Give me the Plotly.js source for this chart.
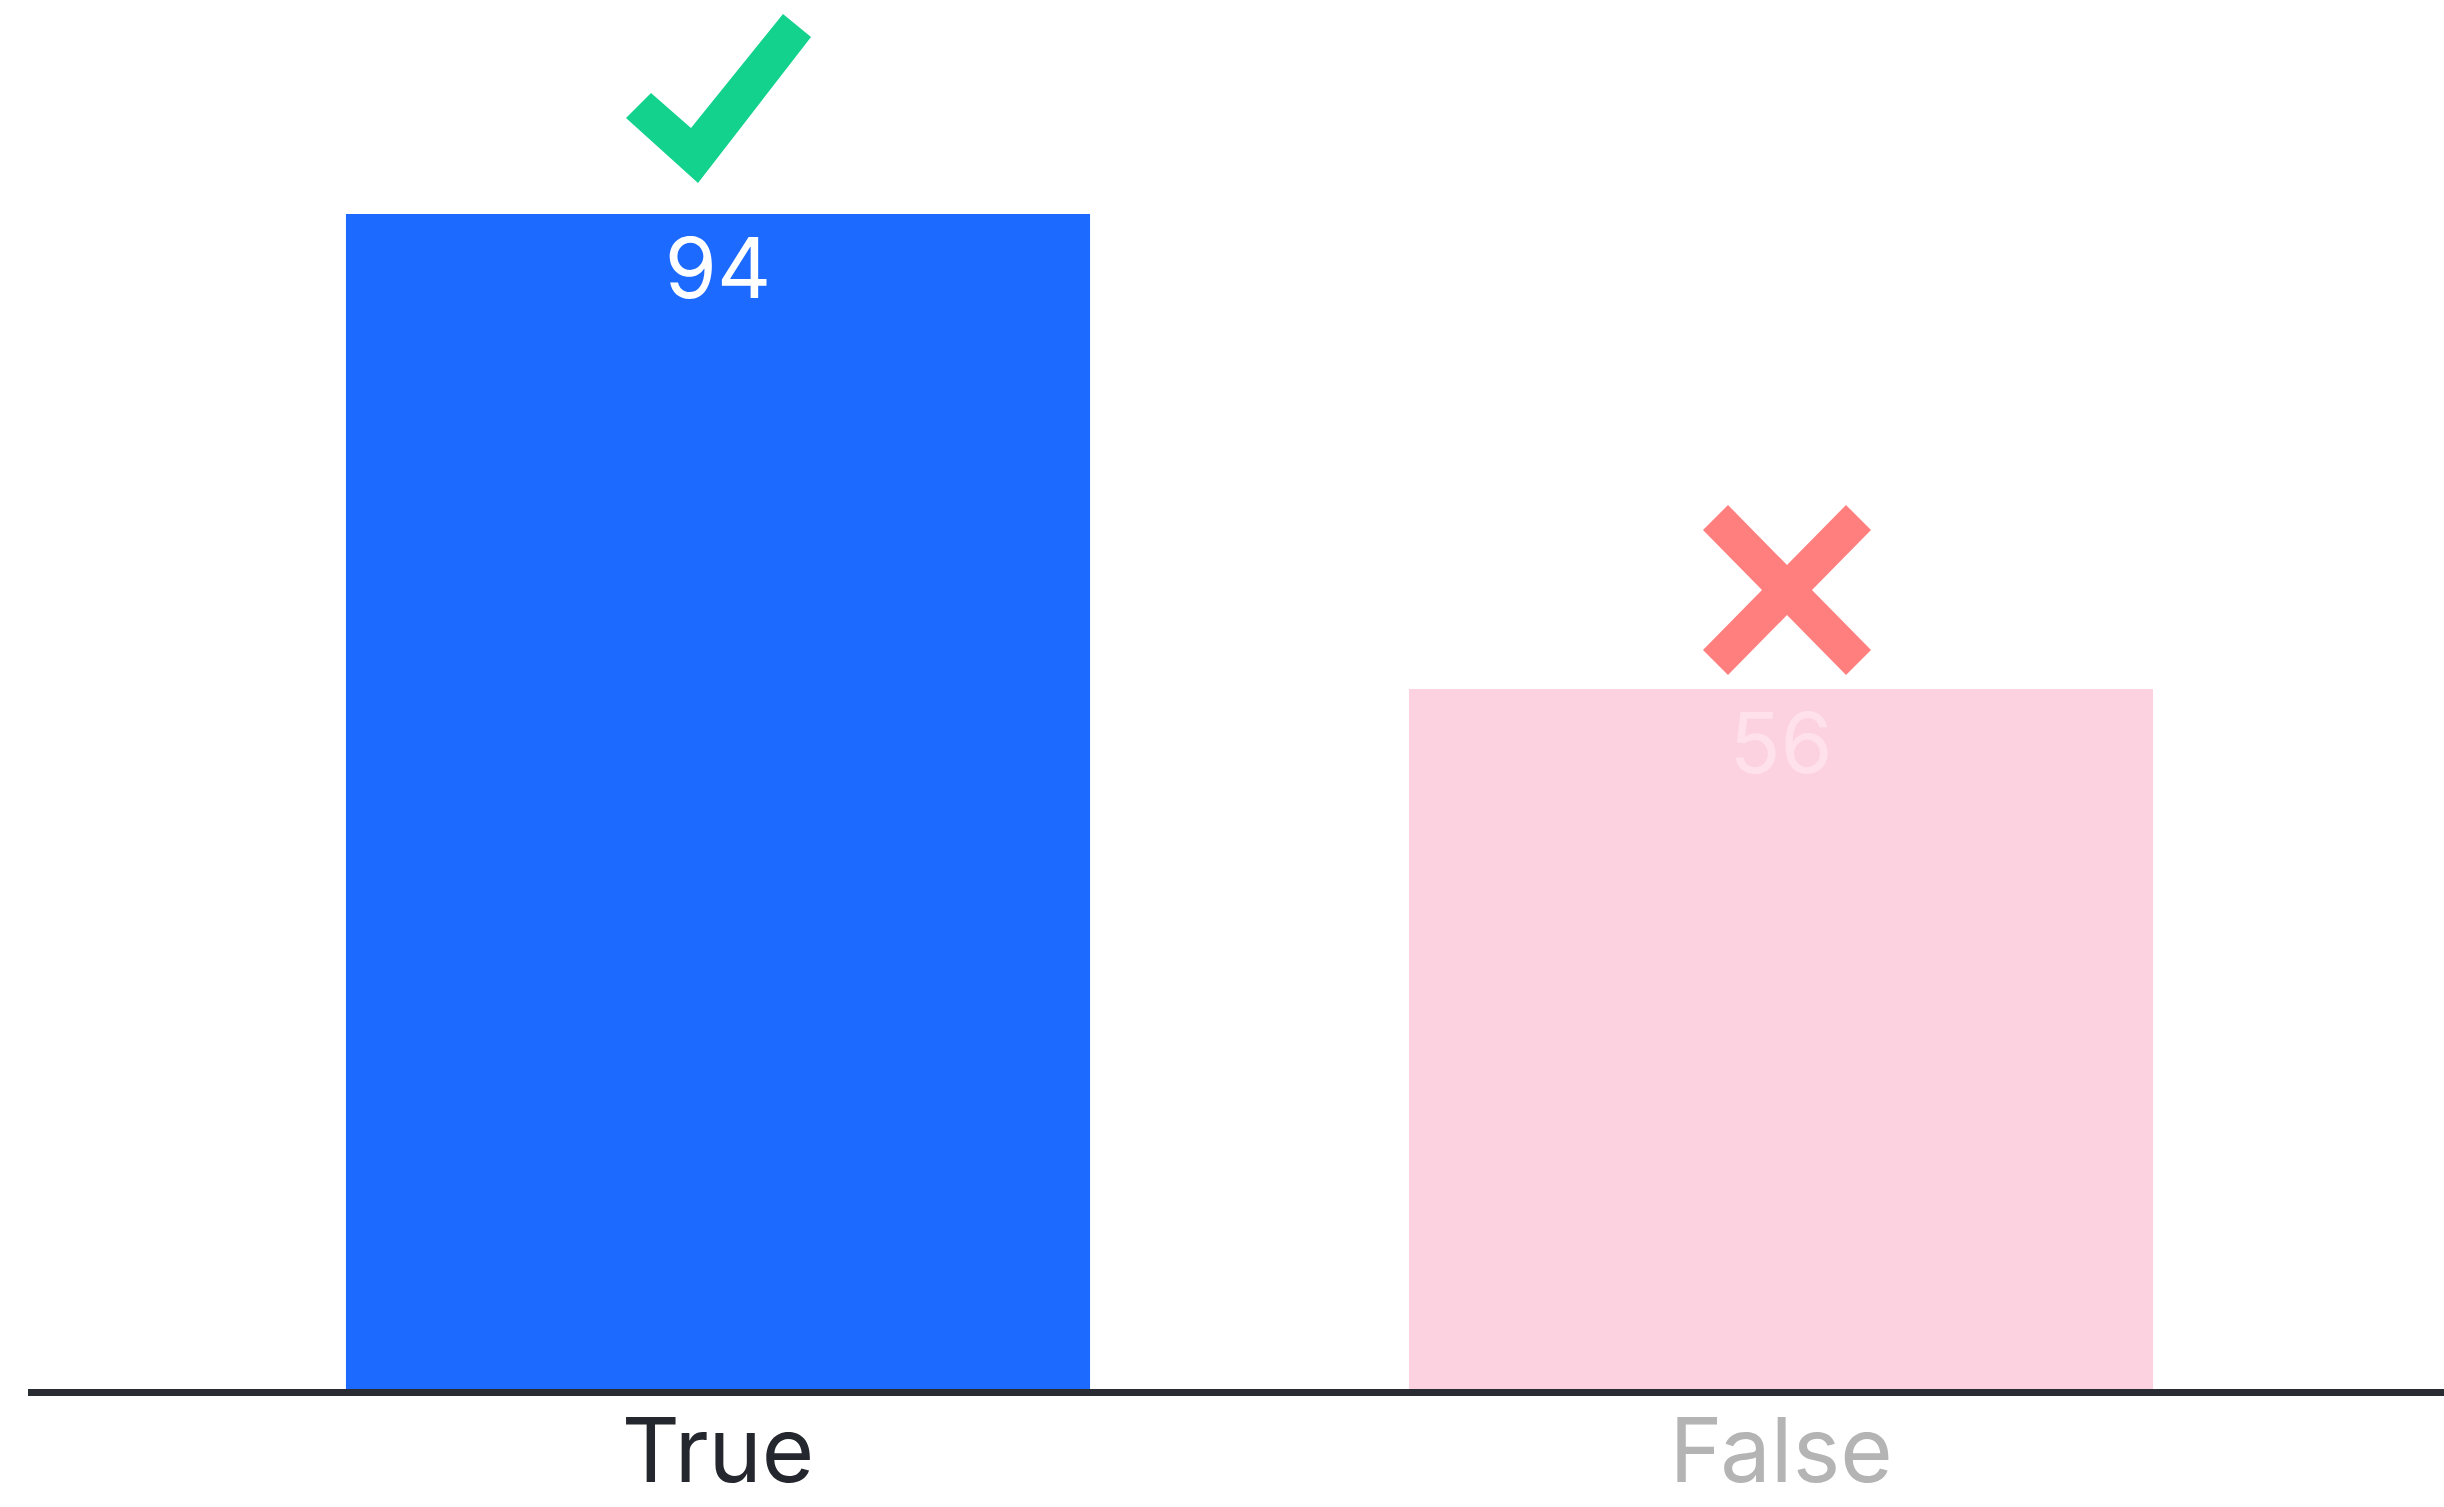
<!DOCTYPE html>
<html>
<head>
<meta charset="utf-8">
<script src="https://cdn.plot.ly/plotly-3.0.1.min.js"></script>
<style>
  html, body { margin: 0; padding: 0; background: #ffffff; }
  #chart { width: 2444px; height: 1507px; }
</style>
</head>
<body>
<div id="chart"></div>
<script>
// ---- data ----
const categories = ['True', 'False'];
const values = [94, 56];
const barColors = ['#1c6aff', '#fdd2e0'];
const valueLabelColors = ['#ffffff', 'rgba(255,255,255,0.35)'];
const tickLabelColors = ['#25272e', '#b4b4b4'];
const markers = ['check', 'cross'];
const markerColors = ['#12d28d', '#ff7e7e'];

// ---- glyph geometry (pixels, relative to the top-centre of a bar, +y up) ----
const glyphs = {
  check: [[-92, 96], [-67, 121], [-27, 86], [65, 200], [93, 177], [-20, 31]],
  cross: [[-84, 60], [-59, 85], [0, 25], [59, 85], [84, 60], [25, 0],
          [84, -60], [59, -85], [0, -25], [-59, -85], [-84, -60], [-25, 0]]
    .map(p => [p[0] + 6, p[1] + 99])
};

function pathFrom(pts) {
  return 'M ' + pts.map(p => p[0] + ' ' + p[1]).join(' L ') + ' Z';
}

const idx = categories.map((c, i) => i);

const trace = {
  type: 'bar',
  x: idx,
  y: values,
  marker: { color: barColors, line: { width: 0 } },
  text: values.map(String),
  textposition: 'inside',
  insidetextanchor: 'end',
  textangle: 0,
  constraintext: 'none',
  textfont: { family: 'Inter, "Open Sans", sans-serif', size: 84, color: valueLabelColors },
  hoverinfo: 'skip',
  cliponaxis: false
};

const shapes = idx.map(i => ({
  type: 'path',
  xref: 'x', yref: 'y',
  xsizemode: 'pixel', ysizemode: 'pixel',
  xanchor: i, yanchor: values[i],
  path: pathFrom(glyphs[markers[i]]),
  fillcolor: markerColors[i],
  line: { width: 0 },
  layer: 'above'
}));

const layout = {
  width: 2444,
  height: 1507,
  margin: { l: 28, r: 0, t: 0, b: 118, pad: 0 },
  paper_bgcolor: '#ffffff',
  plot_bgcolor: '#ffffff',
  showlegend: false,
  bargap: 0.3,
  xaxis: {
    range: [-0.6491, 1.6237],
    tickmode: 'array',
    tickvals: idx,
    ticktext: categories.map((c, i) => '<span style="color:' + tickLabelColors[i] + '">' + c + '</span>'),
    tickfont: { family: 'Inter, "Open Sans", sans-serif', size: 90, color: '#25272e' },
    ticks: '',
    ticklabelstandoff: -22,
    showline: true,
    linecolor: '#2a2c33',
    linewidth: 7,
    showgrid: false,
    zeroline: false,
    fixedrange: true
  },
  yaxis: {
    range: [0, 111.12],
    visible: false,
    showgrid: false,
    zeroline: false,
    fixedrange: true
  },
  shapes: shapes
};

Plotly.newPlot('chart', [trace], layout, { displayModeBar: false, staticPlot: true });
</script>
</body>
</html>
